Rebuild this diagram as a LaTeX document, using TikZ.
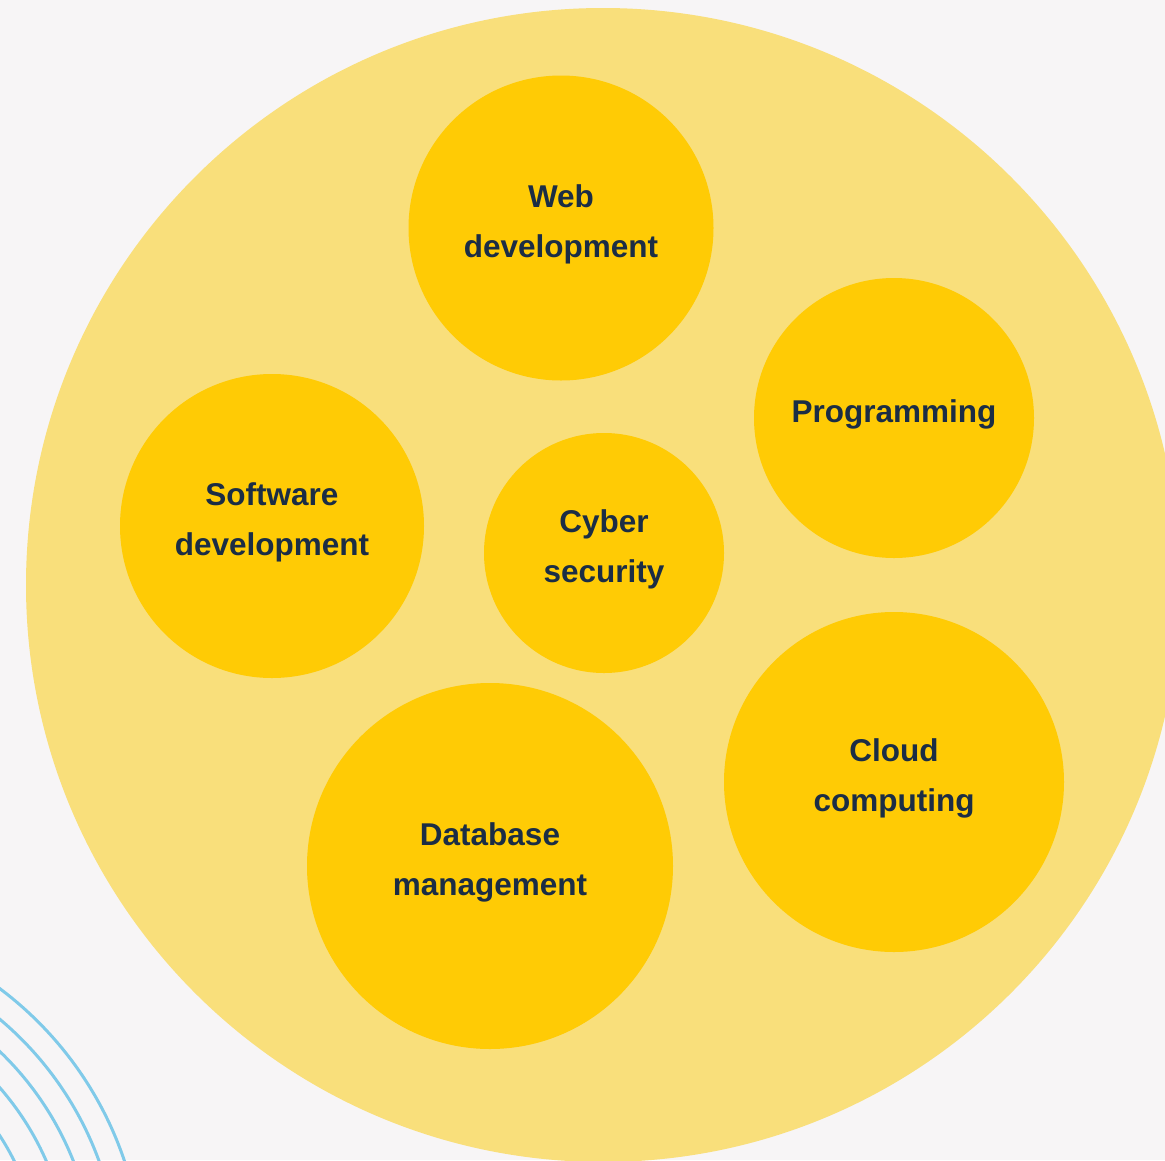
\documentclass[tikz,border=0pt]{standalone}
\usepackage{fontspec}
\setmainfont{Liberation Sans}
\usetikzlibrary{positioning}
\definecolor{bggrey}{HTML}{F7F5F6}
\definecolor{paleyellow}{HTML}{F9DF7B}
\definecolor{gold}{HTML}{FFCB05}
\definecolor{navy}{HTML}{1B2D45}
\definecolor{skyblue}{HTML}{80CAE9}
\tikzset {
  % large pale circle holding the topics
  outer/.style = {circle, fill=paleyellow, inner sep=0pt},
  % topic circles
  topic/.style = {circle, fill=gold, inner sep=0pt, text=navy, align=center,
    text depth=14pt, font=\fontsize{31.5}{50}\selectfont\bfseries},
  % thin blue rings in the corner
  ripple/.style = {skyblue, line width=3pt},
}

\begin{document}
\begin{tikzpicture}[x=1pt, y=-1pt]
      \useasboundingbox (0,0) rectangle (1165,1160);
      \clip (0,0) rectangle (1165,1160);
      \fill[bggrey] (0,0) rectangle (1165,1160);

      \coordinate (ringcentre) at (-215,1275);
      \foreach \r in {256,285,310,334,358}
        \draw[ripple] (ringcentre) circle (\r pt);

      \node[outer, minimum size=1154pt] (big) at (603,585) {};

      \node[topic, minimum size=305pt] (web) at (561,228) {Web\\development};
      \node[topic, minimum size=280pt] (prog) at (894,418) {Programming};
      \node[topic, minimum size=304pt] (soft) at (272,526) {Software\\development};
      \node[topic, minimum size=240pt] (cyber) at (604,553) {Cyber\\security};
      \node[topic, minimum size=366pt] (db) at (490,866) {Database\\management};
      \node[topic, minimum size=340pt] (cloud) at (894,782) {Cloud\\computing};
    \end{tikzpicture}
\end{document}
